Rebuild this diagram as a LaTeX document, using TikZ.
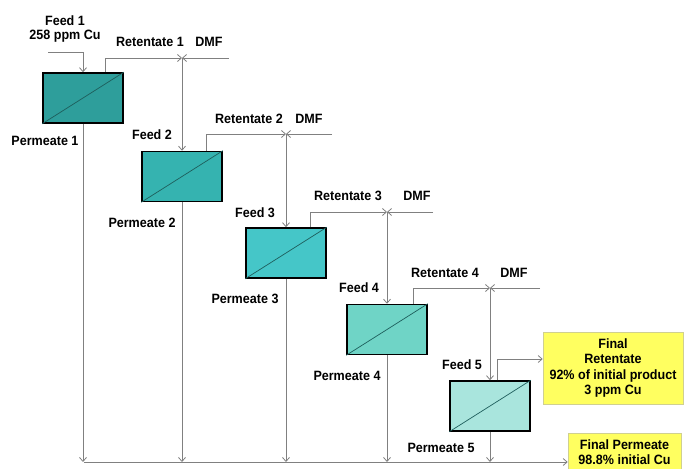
\documentclass[tikz,border=0pt]{standalone}
\usepackage{fontspec}
\setmainfont{Liberation Sans}[FakeStretch=0.93]
\usetikzlibrary{arrows.meta}
\definecolor{cA}{HTML}{2E9E9B}
\definecolor{cB}{HTML}{35B3B0}
\definecolor{cC}{HTML}{45C6C8}
\definecolor{cD}{HTML}{6FD4C6}
\definecolor{cE}{HTML}{A9E5DD}
\definecolor{linegray}{HTML}{808080}
\definecolor{diagcol}{HTML}{1E5E5C}
\definecolor{noteyellow}{HTML}{FFFF60}
\definecolor{noteborder}{HTML}{D0D090}
\tikzset{
  memb/.style={draw=black, line width=1.5pt, minimum width=80pt, minimum height=50pt, inner sep=0pt},
  lbl/.style={font=\bfseries\fontsize{13.5}{15.5}\selectfont, inner sep=0pt, align=center},
  flow/.style={draw=linegray, line width=0.8pt, -{Straight Barb[length=4pt,width=7pt]}},
  diag/.style={draw=diagcol, line width=0.7pt},
  note/.style={fill=noteyellow, draw=noteborder, line width=0.6pt, inner sep=0pt, align=center, font=\bfseries\fontsize{13.5}{15.5}\selectfont}
}
\begin{document}
\begin{tikzpicture}[x=1pt,y=-1pt]
\useasboundingbox (0,0) rectangle (684,468);
% membrane units
\node[memb, fill=cA] (b1) at (83,98) {};
\node[memb, fill=cB] (b2) at (182,176.5) {};
\node[memb, fill=cC] (b3) at (286,253) {};
\node[memb, fill=cD] (b4) at (387,329.5) {};
\node[memb, fill=cE] (b5) at (490,406) {};
\foreach \b in {b1,b2,b3,b4,b5}{
  \draw[diag] (\b.south west) -- (\b.north east);
}
% final boxes
\node[note, minimum width=140pt, minimum height=72pt] (fr) at (613,368) {Final\\Retentate\\92\% of initial product\\3 ppm Cu};
\node[note, minimum width=113pt, minimum height=38pt] (fp) at (624.5,452) {Final Permeate\\98.8\% initial Cu};
% coordinates
\coordinate (f1) at (48,52);
\coordinate (j1) at (182,58);
\coordinate (j2) at (286,134);
\coordinate (j3) at (387,212);
\coordinate (j4) at (490,288);
\coordinate (d1) at (229,58);
\coordinate (d2) at (332,134);
\coordinate (d3) at (433,212);
\coordinate (d4) at (540,288);
\coordinate (bus) at (84,462);
% feed 1
\draw[flow] (f1) -| (b1.north);
% retentate, DMF and next feeds
\draw[flow] ([xshift=22pt]b1.north) |- (j1);
\draw[flow] (d1) -- (j1);
\draw[flow] (j1) -- (b2.north);
\draw[flow] ([xshift=24pt]b2.north) |- (j2);
\draw[flow] (d2) -- (j2);
\draw[flow] (j2) -- (b3.north);
\draw[flow] ([xshift=24pt]b3.north) |- (j3);
\draw[flow] (d3) -- (j3);
\draw[flow] (j3) -- (b4.north);
\draw[flow] ([xshift=26pt]b4.north) |- (j4);
\draw[flow] (d4) -- (j4);
\draw[flow] (j4) -- (b5.north);
% final retentate
\draw[flow] ([xshift=7pt]b5.north) |- ([yshift=9pt]fr.west);
% permeates
\foreach \b in {b1,b2,b3,b4,b5}{
  \draw[flow] (\b.south) -- (\b.south |- bus);
}
\draw[flow] (bus) -- (bus -| fp.west);
% labels
\node[lbl] (t1) at (65,21) {Feed 1};
\node[lbl] (t1b) at (65,36) {258 ppm Cu};
\node[lbl] (r1) at (150,42) {Retentate 1};
\node[lbl] (m1) at (209,42) {DMF};
\node[lbl] (p1) at (45,141) {Permeate 1};
\node[lbl] (t2) at (152,135) {Feed 2};
\node[lbl] (r2) at (249,119) {Retentate 2};
\node[lbl] (m2) at (309,119) {DMF};
\node[lbl] (p2) at (142,223) {Permeate 2};
\node[lbl] (t3) at (255,213) {Feed 3};
\node[lbl] (r3) at (348,196) {Retentate 3};
\node[lbl] (m3) at (417,196) {DMF};
\node[lbl] (p3) at (245,299) {Permeate 3};
\node[lbl] (t4) at (359,288) {Feed 4};
\node[lbl] (r4) at (445,273) {Retentate 4};
\node[lbl] (m4) at (514,273) {DMF};
\node[lbl] (p4) at (347,376) {Permeate 4};
\node[lbl] (t5) at (462,365) {Feed 5};
\node[lbl] (p5) at (441,448) {Permeate 5};
\end{tikzpicture}
\end{document}
